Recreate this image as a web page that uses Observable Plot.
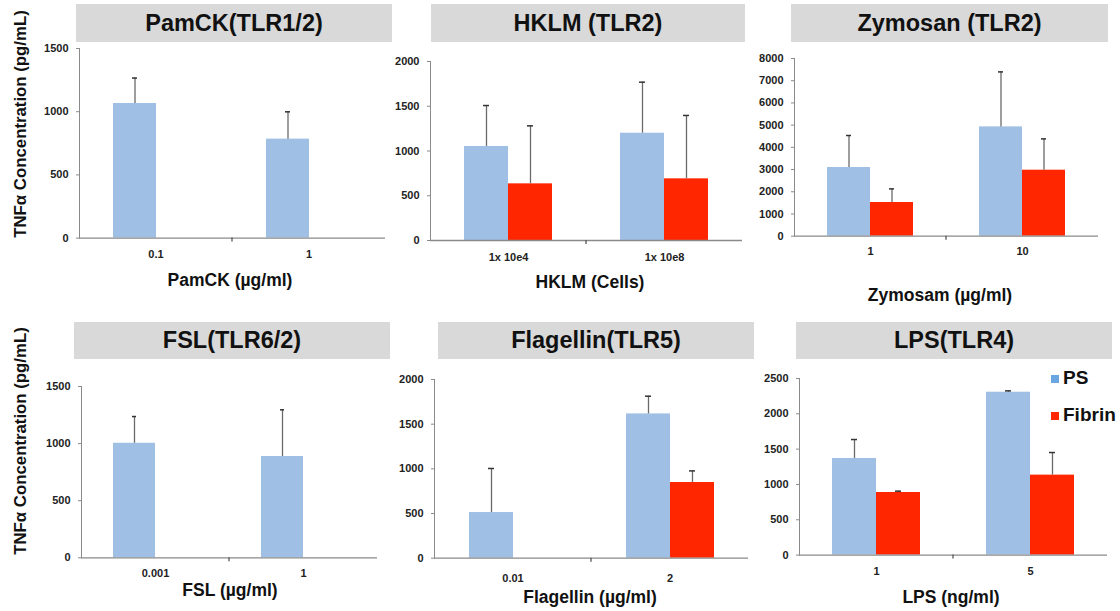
<!DOCTYPE html>
<html>
<head>
<meta charset="utf-8">
<script src="https://cdn.jsdelivr.net/npm/d3@7"></script>
<script src="https://cdn.jsdelivr.net/npm/@observablehq/plot@0.6"></script>
<style>
  body { margin: 0; background: #fff; }
  #root { position: relative; width: 1120px; height: 611px; overflow: hidden;
          font-family: "Liberation Sans", Arial, Helvetica, sans-serif; background: #fff; }
  .abs { position: absolute; white-space: nowrap; }
  .title { background: #d9d9d9; display: flex; align-items: center; justify-content: center;
           font-weight: bold; font-size: 23.5px; color: #111; }
  .xl { font-weight: bold; font-size: 17.5px; color: #111; transform: translate(-50%, -50%); }
  .yl { font-weight: bold; font-size: 16.8px; color: #111; transform: translate(-50%, -50%) rotate(-90deg); }
  .lg { font-weight: bold; font-size: 19px; color: #111; }
  .sw { position: absolute; width: 8px; height: 8px; }
  svg.panel { position: absolute; }
  svg.panel g[aria-label="y-axis tick label"],
  svg.panel g[aria-label="fx-axis tick label"] { fill: #222; }
</style>
</head>
<body>
<div id="root"></div>
<script>
// ---------------- data ----------------
const series = ["PS", "Fibrin"];
const seriesColors = ["#a0bfe5", "#ff2600"];
const legendColors = ["#6aa6e2", "#ff2600"];

const pamckDoses = ["0.1", "1"];
const pamckPS = [1065, 783];
const pamckPSErr = [201, 216];
const pamckFibrin = [null, null];
const pamckFibrinErr = [null, null];
const pamckYTicks = [0, 500, 1000, 1500];

const hklmDoses = ["1x 10e4", "1x 10e8"];
const hklmPS = [1050, 1199];
const hklmPSErr = [458, 570];
const hklmFibrin = [633, 689];
const hklmFibrinErr = [648, 708];
const hklmYTicks = [0, 500, 1000, 1500, 2000];

const zymosanDoses = ["1", "10"];
const zymosanPS = [3093, 4921];
const zymosanPSErr = [1440, 2476];
const zymosanFibrin = [1517, 2971];
const zymosanFibrinErr = [613, 1410];
const zymosanYTicks = [0, 1000, 2000, 3000, 4000, 5000, 6000, 7000, 8000];

const fslDoses = ["0.001", "1"];
const fslPS = [1003, 887];
const fslPSErr = [234, 409];
const fslFibrin = [null, null];
const fslFibrinErr = [null, null];
const fslYTicks = [0, 500, 1000, 1500];

const flagellinDoses = ["0.01", "2"];
const flagellinPS = [511, 1615];
const flagellinPSErr = [493, 198];
const flagellinFibrin = [null, 847];
const flagellinFibrinErr = [null, 130];
const flagellinYTicks = [0, 500, 1000, 1500, 2000];

const lpsDoses = ["1", "5"];
const lpsPS = [1367, 2306];
const lpsPSErr = [269, 19];
const lpsFibrin = [886, 1132];
const lpsFibrinErr = [19, 320];
const lpsYTicks = [0, 500, 1000, 1500, 2000, 2500];

const titles = ["PamCK(TLR1/2)", "HKLM (TLR2)", "Zymosan (TLR2)", "FSL(TLR6/2)", "Flagellin(TLR5)", "LPS(TLR4)"];
const xLabels = ["PamCK (µg/ml)", "HKLM (Cells)", "Zymosam (µg/ml)", "FSL (µg/ml)", "Flagellin (µg/ml)", "LPS (ng/ml)"];
const yLabel = "TNFα Concentration (pg/mL)";
const legendLabels = ["PS", "Fibrin"];

// ---------------- layout (pixels) ----------------
const layout = [
  { ax: 79,  xe: 385,  y0: 237.3, yt: 47.7,  tp: 12, box: [76, 4, 316, 38],   xl: [230, 280] },
  { ax: 430, xe: 742,  y0: 240,   yt: 61,    tp: 13, box: [431, 4, 314, 38],  xl: [590, 282] },
  { ax: 793, xe: 1098, y0: 236,   yt: 58.3,  tp: 11, box: [791, 4, 317, 38],  xl: [940, 295] },
  { ax: 81,  xe: 377,  y0: 557.3, yt: 386,   tp: 11, box: [74, 322, 316, 37], xl: [230, 590] },
  { ax: 433, xe: 748,  y0: 558,   yt: 379.3, tp: 16, box: [438, 322, 316, 37],xl: [590, 597] },
  { ax: 799, xe: 1107, y0: 554.3, yt: 377.7, tp: 12, box: [796, 322, 316, 37],xl: [951, 597] }
];

const panels = [
  { doses: pamckDoses, ps: pamckPS, psErr: pamckPSErr, fib: pamckFibrin, fibErr: pamckFibrinErr, yTicks: pamckYTicks },
  { doses: hklmDoses, ps: hklmPS, psErr: hklmPSErr, fib: hklmFibrin, fibErr: hklmFibrinErr, yTicks: hklmYTicks },
  { doses: zymosanDoses, ps: zymosanPS, psErr: zymosanPSErr, fib: zymosanFibrin, fibErr: zymosanFibrinErr, yTicks: zymosanYTicks },
  { doses: fslDoses, ps: fslPS, psErr: fslPSErr, fib: fslFibrin, fibErr: fslFibrinErr, yTicks: fslYTicks },
  { doses: flagellinDoses, ps: flagellinPS, psErr: flagellinPSErr, fib: flagellinFibrin, fibErr: flagellinFibrinErr, yTicks: flagellinYTicks },
  { doses: lpsDoses, ps: lpsPS, psErr: lpsPSErr, fib: lpsFibrin, fibErr: lpsFibrinErr, yTicks: lpsYTicks }
];

const root = document.getElementById("root");
const mL = 45, mR = 4, mT = 8, mB = 32;

function addDiv(cls, text, style) {
  const d = document.createElement("div");
  d.className = "abs " + cls;
  d.textContent = text;
  Object.assign(d.style, style);
  root.appendChild(d);
  return d;
}

panels.forEach((p, k) => {
  const L = layout[k];
  const rows = [];
  p.doses.forEach((dose, i) => {
    if (p.ps[i] != null) rows.push({ dose, series: "PS", value: p.ps[i], err: p.psErr[i] });
    if (p.fib[i] != null) rows.push({ dose, series: "Fibrin", value: p.fib[i], err: p.fibErr[i] });
  });
  const width = L.xe - L.ax + mL + mR;
  const height = L.y0 - L.yt + mT + mB;
  const chart = Plot.plot({
    width, height,
    marginLeft: mL, marginRight: mR, marginTop: mT, marginBottom: mB,
    style: { fontFamily: '"Liberation Sans", Arial, Helvetica, sans-serif', fontSize: "11px",
             fontWeight: "bold", color: "#8a8a8a", background: "transparent", overflow: "visible" },
    fx: { domain: p.doses, padding: 0, label: null, axis: "bottom", tickSize: 0, tickPadding: L.tp },
    x: { domain: series, paddingInner: 0, paddingOuter: 0.75, axis: null },
    y: { domain: [0, p.yTicks[p.yTicks.length - 1]], ticks: p.yTicks, tickFormat: d => String(d),
         tickSize: 3, tickPadding: 8, label: null, line: true },
    color: { domain: series, range: seriesColors },
    marks: [
      Plot.barY(rows, { fx: "dose", x: "series", y: "value", fill: "series" }),
      Plot.ruleX(rows, { fx: "dose", x: "series", y1: "value", y2: d => d.value + d.err, stroke: "#6a6a6a", strokeWidth: 1.3 }),
      Plot.tickY(rows, { fx: "dose", x: "series", y: d => d.value + d.err, stroke: "#333", strokeWidth: 1.5, insetLeft: 19, insetRight: 19 }),
      Plot.ruleY([0], { stroke: "#8a8a8a", strokeWidth: 1.3 })
    ]
  });
  chart.classList.add("panel");
  chart.style.left = (L.ax - mL) + "px";
  chart.style.top = (L.yt - mT) + "px";
  root.appendChild(chart);

  // boundary ticks between groups on the x axis
  const fxs = chart.scale("fx");
  const ys = chart.scale("y");
  const yb = ys.apply(0);
  const svg = d3.select(chart);
  for (let i = 1; i < p.doses.length; i++) {
    const xp = fxs.apply(p.doses[i]);
    svg.append("line").attr("x1", xp).attr("x2", xp).attr("y1", yb).attr("y2", yb + 4)
      .attr("stroke", "#555").attr("stroke-width", 1.3);
  }

  // title box
  addDiv("title", titles[k], { left: L.box[0] + "px", top: L.box[1] + "px", width: L.box[2] + "px", height: L.box[3] + "px" });
  // x label
  addDiv("xl", xLabels[k], { left: L.xl[0] + "px", top: L.xl[1] + "px" });
});

// y labels (left column)
addDiv("yl", yLabel, { left: "21px", top: "124px" });
addDiv("yl", yLabel, { left: "21px", top: "441px" });

// legend
const legendPos = [[1051, 375], [1051, 412]];
legendLabels.forEach((lab, i) => {
  const s = document.createElement("div");
  s.className = "sw";
  s.style.left = legendPos[i][0] + "px";
  s.style.top = legendPos[i][1] + "px";
  s.style.background = legendColors[i];
  root.appendChild(s);
  addDiv("lg", lab, { left: (legendPos[i][0] + 12) + "px", top: (legendPos[i][1] - 8) + "px" });
});
</script>
</body>
</html>
